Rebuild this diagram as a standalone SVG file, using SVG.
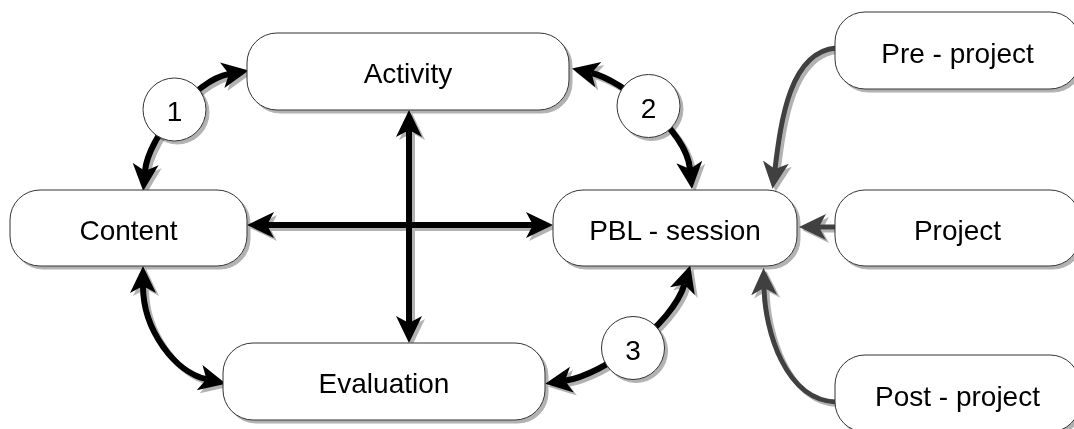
<svg xmlns="http://www.w3.org/2000/svg" width="1074" height="429" viewBox="0 0 1074 429">
  <defs>
    <filter id="shadow" x="-10%" y="-10%" width="130%" height="140%">
      <feDropShadow dx="3" dy="3" stdDeviation="0.4" flood-color="#000" flood-opacity="0.3"/>
    </filter>
    <marker id="arrow" markerUnits="userSpaceOnUse" markerWidth="28" markerHeight="28" refX="7" refY="13" orient="auto-start-reverse">
      <path d="M0,0 L27,13 L0,26 L7,13 Z" fill="#000"/>
    </marker>
    <marker id="arrowGray" markerUnits="userSpaceOnUse" markerWidth="28" markerHeight="28" refX="7" refY="13" orient="auto-start-reverse">
      <path d="M0,0 L27,13 L0,26 L7,13 Z" fill="#404040"/>
    </marker>
    <style>
      .box { fill: #fff; stroke: #333; stroke-width: 1; }
      .label { font-family: "Liberation Sans", Arial, sans-serif; font-size: 28px; fill: #000; text-anchor: middle; }
      .link { fill: none; stroke: #000; stroke-width: 6; marker-start: url(#arrow); marker-end: url(#arrow); }
      .feed { fill: none; stroke: #404040; stroke-width: 5; stroke-linecap: round; marker-end: url(#arrowGray); }
    </style>
  </defs>

  <!-- connectors -->
  <g id="connectors" filter="url(#shadow)">
    <path class="link" d="M145,171 C148,138 195,80 229,74"/>
    <path class="link" d="M591.5,73 C621,80 686,129 690,169"/>
    <path class="link" d="M684.4,284.5 C672,325 603,375 565,380.7"/>
    <path class="link" d="M143,286 C143,330 175,372 206.4,379.2"/>
    <path class="link" d="M267,225 L533,225"/>
    <path class="link" d="M409,130 L409,323"/>
    <path class="feed" d="M836,48 C790,52 781,120 775,169"/>
    <path class="feed" d="M836,227 L819,227"/>
    <path class="feed" d="M836,402 C785,400 765,330 764,288"/>
  </g>

  <!-- nodes -->
  <g id="activity" filter="url(#shadow)">
    <rect class="box" x="247" y="33" width="322" height="77" rx="30"/>
    <text class="label" x="408" y="83">Activity</text>
  </g>
  <g id="content" filter="url(#shadow)">
    <rect class="box" x="10" y="190" width="237" height="76" rx="30"/>
    <text class="label" x="128.5" y="240">Content</text>
  </g>
  <g id="pbl-session" filter="url(#shadow)">
    <rect class="box" x="553" y="190" width="244" height="76" rx="30"/>
    <text class="label" x="675" y="240">PBL - session</text>
  </g>
  <g id="evaluation" filter="url(#shadow)">
    <rect class="box" x="223" y="343" width="322" height="77" rx="30"/>
    <text class="label" x="384" y="393">Evaluation</text>
  </g>
  <g id="pre-project" filter="url(#shadow)">
    <rect class="box" x="835" y="12" width="245" height="77" rx="30"/>
    <text class="label" x="957.5" y="63">Pre - project</text>
  </g>
  <g id="project" filter="url(#shadow)">
    <rect class="box" x="835" y="190" width="245" height="76" rx="30"/>
    <text class="label" x="957.5" y="240">Project</text>
  </g>
  <g id="post-project" filter="url(#shadow)">
    <rect class="box" x="835" y="355" width="245" height="77" rx="30"/>
    <text class="label" x="957.5" y="406">Post - project</text>
  </g>

  <!-- numbered labels on the cycle links -->
  <g id="step-1" filter="url(#shadow)">
    <circle class="box" cx="174.5" cy="109.5" r="31.5"/>
    <text class="label" x="174.5" y="121">1</text>
  </g>
  <g id="step-2" filter="url(#shadow)">
    <circle class="box" cx="648.5" cy="106" r="31.5"/>
    <text class="label" x="648.5" y="117.5">2</text>
  </g>
  <g id="step-3" filter="url(#shadow)">
    <circle class="box" cx="633" cy="348" r="31.5"/>
    <text class="label" x="633" y="359.5">3</text>
  </g>
</svg>
